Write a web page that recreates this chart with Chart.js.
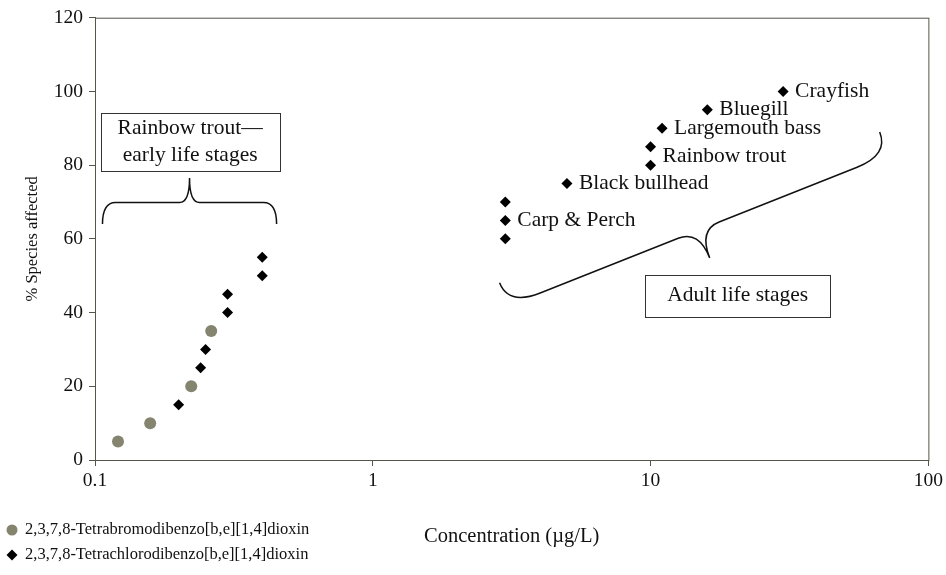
<!DOCTYPE html>
<html>
<head>
<meta charset="utf-8">
<script src="https://cdn.jsdelivr.net/npm/chart.js@4.4.1/dist/chart.umd.min.js"></script>
<style>
  html, body { margin: 0; padding: 0; background: #fff; }
  #wrap { position: relative; width: 946px; height: 575px; }
</style>
</head>
<body>
<div id="wrap"><canvas id="chart"></canvas></div>
<script>
// ---- data ----
const xTicks = [0.1, 1, 10, 100];

// TBDD (серые кружки) — ранние стадии форели
const tbddConc = [0.121, 0.158, 0.222, 0.262];
const tbddPct  = [5, 10, 20, 35];

// TCDD (чёрные ромбы) — ранние стадии + взрослые виды
const tcddConc = [0.2, 0.24, 0.25, 0.3, 0.3, 0.4, 0.4, 3, 3, 3, 5, 10, 10, 11, 16, 30];
const tcddPct  = [15, 25, 30, 40, 45, 50, 55, 60, 65, 70, 75, 80, 85, 90, 95, 100];

// подписи видов (привязаны к точкам)
const spLabels = ['Crayfish', 'Bluegill', 'Largemouth bass', 'Rainbow trout', 'Black bullhead', 'Carp & Perch'];
const spConc   = [30, 16, 11, 10, 5, 3];
const spPct    = [100, 95, 90, 82.5, 75, 65];

const SERIF = '"Liberation Serif", "DejaVu Serif", serif';
const AXIS  = '#55554a';

// фигурная скобка: from/to в координатах данных, side — куда смотрит острие
function brace(chart, from, to, side, h, r, hc, rc) {
  const { ctx, scales: { x, y } } = chart;
  const sx = x.getPixelForValue(from[0]), sy = y.getPixelForValue(from[1]);
  const ex = x.getPixelForValue(to[0]),   ey = y.getPixelForValue(to[1]);
  const L = Math.hypot(ex - sx, ey - sy);
  const ux = (ex - sx) / L, uy = (ey - sy) / L;
  const vx = -uy * side, vy = ux * side;
  const P = (a, b) => [sx + a * ux + b * vx, sy + a * uy + b * vy];
  const c = L / 2;
  ctx.beginPath();
  ctx.moveTo(...P(0, 0));
  ctx.quadraticCurveTo(...P(0, h), ...P(r, h));
  ctx.lineTo(...P(c - rc, h));
  ctx.quadraticCurveTo(...P(c, h), ...P(c, h + hc));
  ctx.quadraticCurveTo(...P(c, h), ...P(c + rc, h));
  ctx.lineTo(...P(L - r, h));
  ctx.quadraticCurveTo(...P(L, h), ...P(L, 0));
  ctx.stroke();
}

function textBox(chart, at, w, hgt, lines, lh) {
  const { ctx, scales: { x, y } } = chart;
  const cx = x.getPixelForValue(at[0]), cy = y.getPixelForValue(at[1]);
  ctx.strokeRect(Math.round(cx - w / 2) + 0.5, Math.round(cy - hgt / 2) + 0.5, w, hgt);
  lines.forEach((t, i) => {
    ctx.fillText(t, cx, cy + (i - (lines.length - 1) / 2) * lh);
  });
}

const notes = {
  id: 'notes',
  afterDatasetsDraw(chart) {
    const { ctx, scales: { x, y } } = chart;
    ctx.save();
    ctx.fillStyle = '#111';
    ctx.strokeStyle = '#111';
    ctx.font = '21.5px ' + SERIF;
    ctx.textBaseline = 'middle';

    // подписи видов
    ctx.textAlign = 'left';
    spLabels.forEach((t, i) => {
      ctx.fillText(t, x.getPixelForValue(spConc[i]) + 12, y.getPixelForValue(spPct[i]));
    });

    // скобки
    ctx.lineWidth = 1.5;
    brace(chart, [0.1064, 64], [0.4505, 64], -1, 21.5, 13, 24.5, 10);
    brace(chart, [2.86, 48.1], [66.8, 89], 1, 24.5, 34, 30, 22);

    // рамки с текстом
    ctx.lineWidth = 1;
    ctx.strokeStyle = '#333';
    ctx.textAlign = 'center';
    textBox(chart, [0.22, 86.3], 179, 58, ['Rainbow trout\u2014', 'early life stages'], 27);
    textBox(chart, [20.6, 44.6], 185, 42, ['Adult life stages'], 0);
    ctx.restore();
  },
  afterDraw(chart) {
    const { ctx, chartArea: a } = chart;
    ctx.save();
    // рамка вокруг области графика
    ctx.strokeStyle = AXIS;
    ctx.lineWidth = 1;
    ctx.strokeRect(a.left + 0.5, a.top + 0.5, a.right - a.left, a.bottom - a.top);

    // легенда внизу слева
    ctx.font = '16.5px ' + SERIF;
    ctx.textBaseline = 'middle';
    ctx.textAlign = 'left';
    chart.data.datasets.forEach((ds, i) => {
      const yy = 530 + i * 25;
      ctx.fillStyle = ds.backgroundColor;
      Chart.helpers.drawPoint(ctx, { pointStyle: ds.pointStyle, radius: 5.5, rotation: 0, borderWidth: 0 }, 12, yy);
      ctx.fillStyle = '#111';
      ctx.fillText(ds.label, 25, yy);
    });
    ctx.restore();
  }
};

new Chart(document.getElementById('chart'), {
  type: 'scatter',
  data: {
    datasets: [
      {
        label: '2,3,7,8-Tetrabromodibenzo[b,e][1,4]dioxin',
        data: tbddConc.map((v, i) => ({ x: v, y: tbddPct[i] })),
        pointStyle: 'circle',
        pointRadius: 6,
        backgroundColor: '#84846f',
        borderWidth: 0,
      },
      {
        label: '2,3,7,8-Tetrachlorodibenzo[b,e][1,4]dioxin',
        data: tcddConc.map((v, i) => ({ x: v, y: tcddPct[i] })),
        pointStyle: 'rectRot',
        pointRadius: 5.5,
        backgroundColor: '#000',
        borderWidth: 0,
      },
    ]
  },
  options: {
    responsive: true,
    maintainAspectRatio: false,
    animation: false,
    layout: { padding: { top: 15, right: 17, left: 0, bottom: 0 } },
    plugins: { legend: { display: false }, tooltip: { enabled: false } },
    scales: {
      x: {
        type: 'logarithmic',
        min: 0.1,
        max: 100,
        afterBuildTicks: s => { s.ticks = xTicks.map(v => ({ value: v })); },
        afterFit: s => { s.height = 115; },
        ticks: {
          color: '#111',
          font: { family: SERIF, size: 19.5 },
          padding: 3,
          autoSkip: false,
          maxRotation: 0,
          callback: v => String(v),
        },
        grid: { drawOnChartArea: false, color: AXIS, tickLength: 6 },
        border: { color: AXIS, width: 1 },
        title: {
          display: true,
          text: 'Concentration (\u00b5g/L)',
          color: '#111',
          font: { family: SERIF, size: 20.5 },
          padding: { top: 0, bottom: 26 },
        },
      },
      y: {
        min: 0,
        max: 120,
        afterFit: s => { s.width = 95; },
        ticks: {
          stepSize: 20,
          color: '#111',
          font: { family: SERIF, size: 19.5 },
          padding: 6,
        },
        grid: { drawOnChartArea: false, color: AXIS, tickLength: 6 },
        border: { color: AXIS, width: 1 },
        title: {
          display: true,
          text: '% Species affected',
          color: '#111',
          font: { family: SERIF, size: 16.5 },
          padding: { top: 23, bottom: 0 },
        },
      },
    },
  },
  plugins: [notes],
});
</script>
</body>
</html>
